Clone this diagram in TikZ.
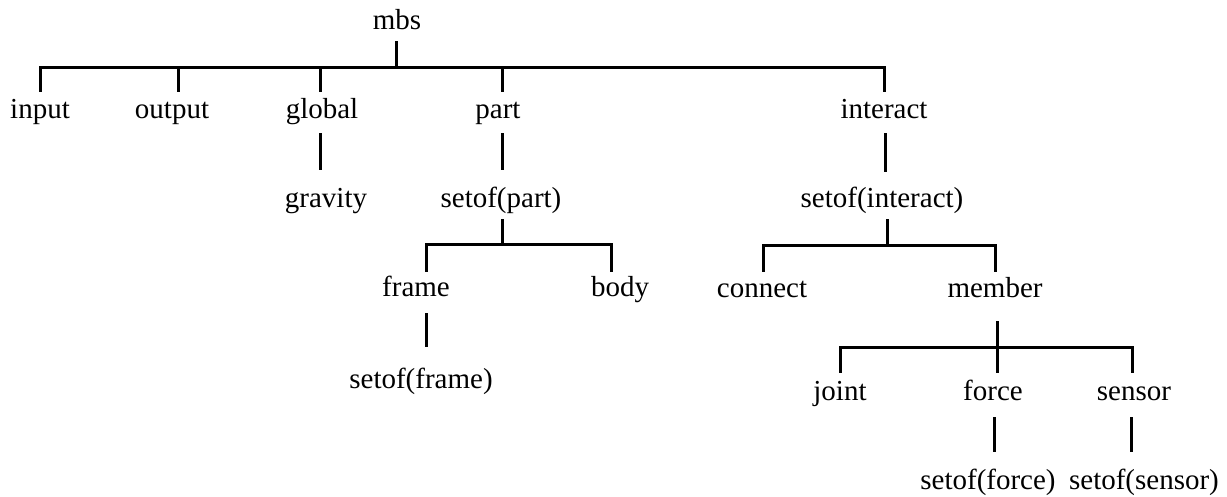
\documentclass[tikz,border=0pt]{standalone}
\usepackage{fontspec}
\setmainfont{Liberation Serif}
\begin{document}
\begin{tikzpicture}[x=1pt,y=-1pt,
  lbl/.style={font=\fontsize{29}{34}\selectfont, inner xsep=0pt, inner ysep=6pt,
              text height=20pt, text depth=6pt, anchor=base},
  conn/.style={line width=3pt, line join=miter, line cap=butt}]
\useasboundingbox (0,0) rectangle (1227,496);
% nodes
\node[lbl] (mbs) at (397,29) {mbs};
\node[lbl] (input) at (40,118) {input};
\node[lbl] (output) at (172,118) {output};
\node[lbl] (global) at (322,118) {global};
\node[lbl] (part) at (498,118) {part};
\node[lbl] (interact) at (884,118) {interact};
\node[lbl] (gravity) at (326,207) {gravity};
\node[lbl] (setpart) at (501,207) {setof(part)};
\node[lbl] (setinteract) at (882,207) {setof(interact)};
\node[lbl] (frame) at (416,296) {frame};
\node[lbl] (body) at (620,296) {body};
\node[lbl] (connect) at (762,297) {connect};
\node[lbl] (member) at (995,297) {member};
\node[lbl] (setframe) at (421,388) {setof(frame)};
\node[lbl] (joint) at (840,400) {joint};
\node[lbl] (force) at (993,400) {force};
\node[lbl] (sensor) at (1134,400) {sensor};
\node[lbl] (setforce) at (988,489) {setof(force)};
\node[lbl] (setsensor) at (1144,489) {setof(sensor)};
% bus levels
\coordinate (b0) at (0,67);
\coordinate (b1) at (0,244);
\coordinate (b2) at (0,245);
\coordinate (b3) at (0,347);
% connector attachment points (offsets of the line from the text centre)
\path (mbs.south) ++(-1,0) coordinate (mbsB);
\path (output.north) ++(6,0) coordinate (outT);
\path (global.north) ++(-2,0) coordinate (gloT);
\path (global.south) ++(-2,3) coordinate (gloB);
\path (part.north) ++(4,0) coordinate (parT);
\path (part.south) ++(4,3) coordinate (parB);
\path (interact.south) ++(1,3) coordinate (intB);
\path (setpart.south) ++(1,0) coordinate (spB);
\path (setinteract.south) ++(5,0) coordinate (siB);
\path (frame.north) ++(10,2) coordinate (frT);
\path (frame.south) ++(10,5) coordinate (frB);
\path (body.north) ++(-9,2) coordinate (boT);
\path (connect.north) ++(1,1) coordinate (coT);
\path (member.north) ++(0,1) coordinate (meT);
\path (member.south) ++(2,12) coordinate (meB);
\path (joint.north) ++(0,-1) coordinate (joT);
\path (force.north) ++(4,-1) coordinate (foT);
\path (force.south) ++(1,5) coordinate (foB);
\path (sensor.north) ++(-2,-1) coordinate (seT);
\path (sensor.south) ++(-3,5) coordinate (seB);
% top level
\draw[conn] (mbsB) -- (mbsB |- b0);
\draw[conn] (input.north) -- (input.north |- b0) -- (interact.north |- b0) -- (interact.north);
\draw[conn] (outT) -- (outT |- b0);
\draw[conn] (gloT) -- (gloT |- b0);
\draw[conn] (parT) -- (parT |- b0);
% second level
\draw[conn, shorten >=11pt] (gloB) -- (gloB |- gravity.north);
\draw[conn, shorten >=11pt] (parB) -- (parB |- setpart.north);
\draw[conn, shorten >=9pt] (intB) -- (intB |- setinteract.north);
% setof(part) children
\draw[conn] (spB) -- (spB |- b1);
\draw[conn] (frT) -- (frT |- b1) -- (boT |- b1) -- (boT);
\draw[conn, shorten >=15pt] (frB) -- (frB |- setframe.north);
% setof(interact) children
\draw[conn] (siB) -- (siB |- b2);
\draw[conn] (coT) -- (coT |- b2) -- (meT |- b2) -- (meT);
% member children
\draw[conn] (meB) -- (meB |- foT);
\draw[conn] (joT) -- (joT |- b3) -- (seT |- b3) -- (seT);
\draw[conn, shorten >=11pt] (foB) -- (foB |- setforce.north);
\draw[conn, shorten >=11pt] (seB) -- (seB |- setsensor.north);
\end{tikzpicture}
\end{document}
